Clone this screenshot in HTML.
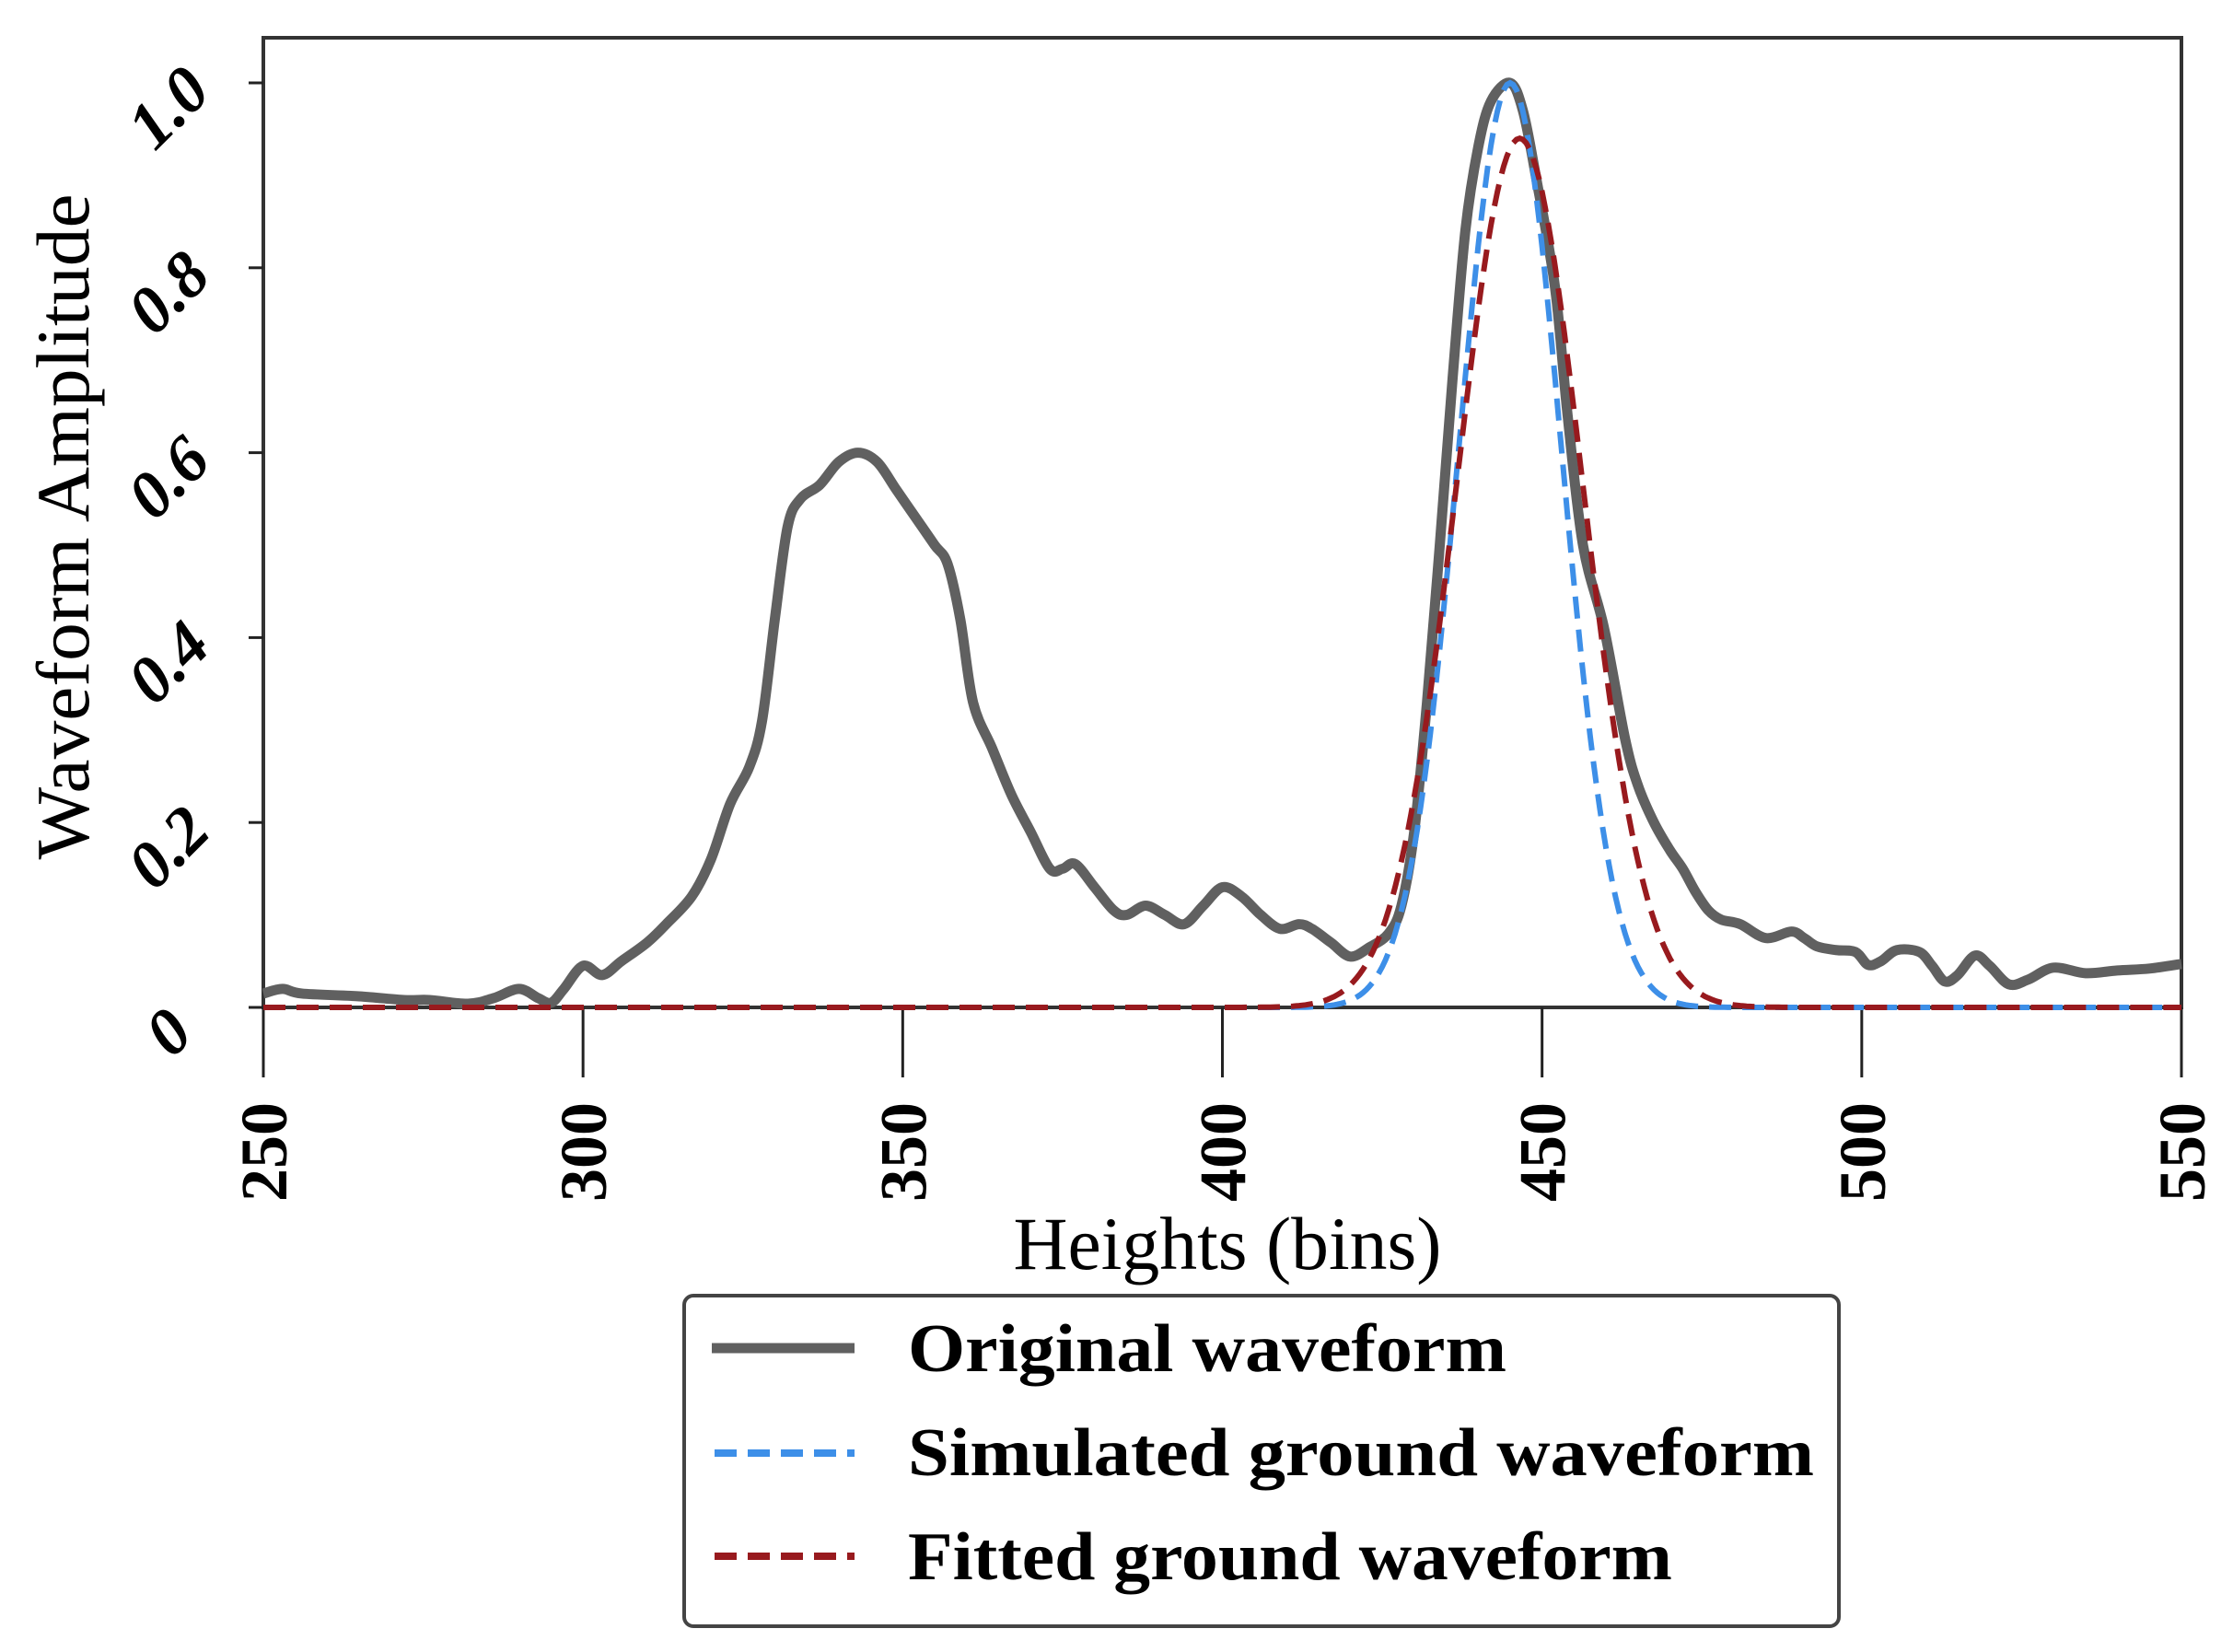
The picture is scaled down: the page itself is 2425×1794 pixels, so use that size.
<!DOCTYPE html>
<html><head><meta charset="utf-8"><style>
html,body{margin:0;padding:0;background:#fff}
svg{display:block}
text{font-family:"Liberation Serif",serif;fill:#000}
</style></head><body>
<svg id="s" width="2425" height="1794" viewBox="0 0 2425 1794" xmlns="http://www.w3.org/2000/svg">
<rect x="0" y="0" width="2425" height="1794" fill="#fff"/>
<rect x="286" y="41" width="2083" height="1053" fill="none" stroke="#333" stroke-width="4"/>
<g id="ticks" stroke="#222" stroke-width="3"></g>
<g id="series"></g>
<g id="labels"></g>
<text x="1333" y="1378" font-size="82" text-anchor="middle" textLength="465" lengthAdjust="spacingAndGlyphs">Heights (bins)</text>
<text transform="translate(96,572) rotate(-90)" font-size="82" text-anchor="middle" textLength="723" lengthAdjust="spacingAndGlyphs">Waveform Amplitude</text>
<rect x="743" y="1407" width="1254" height="359" rx="10" fill="#fff" stroke="#444" stroke-width="4"/>
<line x1="773" y1="1464" x2="928" y2="1464" stroke="#606060" stroke-width="11"/>
<line x1="776" y1="1578" x2="928" y2="1578" stroke="#3d8fe8" stroke-width="8" stroke-dasharray="24,12"/>
<line x1="776" y1="1690" x2="928" y2="1690" stroke="#981a1e" stroke-width="8" stroke-dasharray="24,12"/>
<text x="986" y="1489" font-size="74" font-weight="bold" textLength="650" lengthAdjust="spacingAndGlyphs">Original waveform</text>
<text x="986" y="1602" font-size="74" font-weight="bold" textLength="984" lengthAdjust="spacingAndGlyphs">Simulated ground waveform</text>
<text x="986" y="1715" font-size="74" font-weight="bold" textLength="830" lengthAdjust="spacingAndGlyphs">Fitted ground waveform</text>
</svg>
<script>
var NS="http://www.w3.org/2000/svg";
function X(v){return 286+(v-250)*(2083/300);}
function Y(a){return 1094-a*1004;}
function el(t,attrs,parent,txt){var e=document.createElementNS(NS,t);for(var k in attrs)e.setAttribute(k,attrs[k]);if(txt!==undefined)e.textContent=txt;document.getElementById(parent).appendChild(e);return e;}
for(var v=250;v<=550;v+=50){var x=X(v);el('line',{x1:x,y1:1094,x2:x,y2:1170},'ticks');
 el('text',{transform:'translate('+(x+25)+',1197) rotate(-90)','font-size':72,'font-weight':'bold','text-anchor':'end'},'labels',String(v));}
var yl=['0','0.2','0.4','0.6','0.8','1.0'];
for(var i=0;i<6;i++){var a=i*0.2,y=Y(a);el('line',{x1:270,y1:y,x2:286,y2:y},'ticks');
 el('text',{transform:'translate(188,'+(y+32)+') rotate(-45)','font-size':72,'font-weight':'bold','font-style':'italic','text-anchor':'middle','dominant-baseline':'middle'},'labels',yl[i]);}
var d=[[250,0.015],[253,0.02],[256,0.015],[265,0.012],[272,0.008],[276,0.008],[282,0.004],[286,0.01],[290,0.02],[293,0.01],[295,0.005],[297,0.02],[300,0.045],[303,0.035],[306,0.05],[310,0.07],[313,0.09],[317,0.12],[320,0.16],[323,0.22],[326,0.26],[328,0.31],[330,0.42],[332,0.52],[334,0.55],[337,0.565],[340,0.59],[343,0.6],[346,0.59],[349,0.56],[352,0.53],[355,0.5],[357,0.48],[359,0.42],[361,0.33],[364,0.28],[367,0.23],[370,0.19],[373,0.15],[375,0.15],[377,0.155],[380,0.13],[383,0.105],[385,0.1],[388,0.11],[391,0.1],[394,0.09],[397,0.11],[400,0.13],[403,0.12],[406,0.1],[409,0.085],[412,0.09],[414,0.085],[417,0.07],[420,0.055],[423,0.065],[426,0.08],[428,0.11],[430,0.19],[432,0.33],[434,0.5],[436,0.68],[438,0.84],[440,0.93],[442,0.98],[445,1.0],[447,0.97],[449,0.9],[452,0.78],[454,0.64],[456.4,0.5],[459.7,0.41],[463,0.29],[465,0.24],[467.5,0.2],[470,0.17],[472,0.15],[474,0.125],[476,0.105],[478,0.095],[481,0.09],[485,0.075],[489,0.082],[491,0.075],[493,0.066],[496,0.062],[499,0.06],[501,0.046],[503,0.05],[505.5,0.062],[509,0.06],[511,0.045],[513,0.028],[515,0.035],[517.7,0.056],[520,0.045],[523,0.025],[526,0.03],[530,0.043],[535,0.037],[540,0.04],[545,0.042],[550,0.047]];
var P=d.map(function(p){return [X(p[0]),Y(p[1])];});
var s='M'+P[0][0]+','+P[0][1];
for(var i=0;i<P.length-1;i++){var p0=P[Math.max(i-1,0)],p1=P[i],p2=P[i+1],p3=P[Math.min(i+2,P.length-1)];
 s+=' C'+(p1[0]+(p2[0]-p0[0])/6)+','+(p1[1]+(p2[1]-p0[1])/6)+' '+(p2[0]-(p3[0]-p1[0])/6)+','+(p2[1]-(p3[1]-p1[1])/6)+' '+p2[0]+','+p2[1];}
el('path',{d:s,fill:'none',stroke:'#606060','stroke-width':11,'stroke-linejoin':'round'},'series');
function gauss(A,mu,sg){var s='';for(var v=250;v<=550;v+=0.5){var a=A*Math.exp(-0.5*Math.pow((v-mu)/sg,2));s+=(v==250?'M':'L')+X(v).toFixed(1)+','+Y(a).toFixed(1);}return s;}
el('path',{d:gauss(1.0,445,8.0),fill:'none',stroke:'#3d8fe8','stroke-width':6,'stroke-dasharray':'24,12'},'series');
el('path',{d:gauss(0.94,446.5,9.8),fill:'none',stroke:'#981a1e','stroke-width':6,'stroke-dasharray':'24,12'},'series');
</script>
</body></html>
